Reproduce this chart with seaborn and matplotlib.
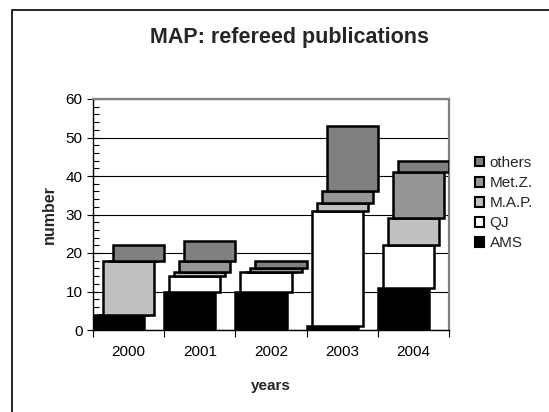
import matplotlib
matplotlib.use("Agg")
import matplotlib.pyplot as plt
import seaborn as sns
import numpy as np
from matplotlib.patches import Rectangle, Patch
from matplotlib.ticker import MultipleLocator

years = ["2000", "2001", "2002", "2003", "2004"]
series_names = ["AMS", "QJ", "M.A.P.", "Met.Z.", "others"]
ams = [4, 10, 10, 1, 11]
qj = [0, 4, 5, 30, 11]
map_ = [14, 1, 0, 2, 7]
metz = [0, 3, 1, 3, 12]
others = [4, 5, 2, 17, 3]
series_values = [ams, qj, map_, metz, others]
colors = ["#000000", "#FFFFFF", "#C0C0C0", "#969696", "#808080"]

sns.set_theme(style="white")
plt.rcParams['font.family'] = ['Liberation Sans', 'DejaVu Sans']

fig = plt.figure(figsize=(5.49, 4.12), dpi=100)
ax = fig.add_axes([93/549, 1-330/412, (449-93)/549, (330-99)/412])

bar_w = 0.72
step = 0.07
bottom = np.zeros(len(years))
for k, (name, vals, col) in enumerate(zip(series_names, series_values, colors)):
    n_before = len(ax.patches)
    sns.barplot(x=years, y=vals, bottom=bottom.copy(), order=years, width=bar_w,
                color=col, saturation=1, edgecolor="black", linewidth=1.8,
                ax=ax, zorder=3)
    shift = -0.5 + bar_w/2 + k*step
    for p in ax.patches[n_before:]:
        p.set_x(p.get_x() + shift)
    bottom = bottom + np.array(vals)

ax.set_xlim(-0.5, len(years)-0.5)
ax.set_ylim(0, 60)
ax.yaxis.set_major_locator(MultipleLocator(10))
ax.yaxis.set_minor_locator(MultipleLocator(2))
ax.grid(axis="y", which="major", color="black", linewidth=0.8, zorder=0)
ax.set_axisbelow(True)

# x ticks at category boundaries, labels at centers
ax.set_xticks(np.arange(-0.5, len(years), 1.0))
ax.set_xticklabels([])
ax.set_xticks(np.arange(len(years)), minor=True)
ax.set_xticklabels(years, minor=True)
ax.tick_params(axis="x", which="major", direction="out", length=5, width=0.8, color="black", bottom=True)
ax.tick_params(axis="x", which="minor", length=0, labelsize=11, pad=11, colors="black")
ax.tick_params(axis="y", which="major", direction="inout", length=9, width=0.8, color="black",
               labelsize=11, pad=3, left=True, labelcolor="black")
ax.tick_params(axis="y", which="minor", direction="in", length=4, width=0.8, color="black", left=True)

for s in ["left", "bottom"]:
    ax.spines[s].set_color("black")
    ax.spines[s].set_linewidth(1.0)
for s in ["top", "right"]:
    ax.spines[s].set_color("#808080")
    ax.spines[s].set_linewidth(1.6)
    ax.spines[s].set_visible(True)

ax.set_xlabel("years", fontsize=11, fontweight="bold", labelpad=14)
ax.set_ylabel("number", fontsize=11.5, fontweight="bold", labelpad=6)

fig.suptitle("MAP: refereed publications", x=290/549, y=1-37/412, va="center",
             fontsize=15.5, fontweight="bold")

handles = [Patch(facecolor=c, edgecolor="black", linewidth=1.5, label=n)
           for n, c in zip(series_names, colors)][::-1]
leg = fig.legend(handles=handles, loc="upper left", bbox_to_anchor=(475/549, 1-156/412),
                 frameon=False, fontsize=11, handlelength=0.6, handleheight=0.6,
                 handletextpad=0.35, labelspacing=0.4, borderaxespad=0, borderpad=0)

fig.patches.append(Rectangle((12/549, -0.1), 1.2, 1-10/412+0.1, transform=fig.transFigure,
                             fill=False, edgecolor="black", linewidth=1.2, zorder=10))

fig.savefig("out.png", dpi=100)
